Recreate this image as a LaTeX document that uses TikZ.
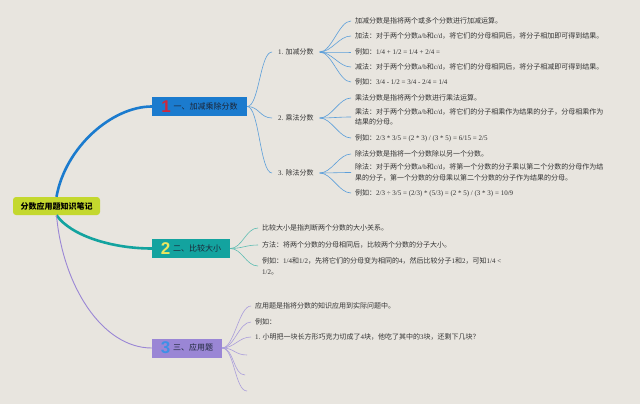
\documentclass[tikz,border=0pt]{standalone}
\usepackage{fontspec}
\setmainfont{Noto Sans CJK SC}
\newfontfamily\engfont{Liberation Serif}
\newfontfamily\numfont{Liberation Sans}
\usetikzlibrary{positioning}

\definecolor{paper}{HTML}{E8E5DF}
\definecolor{rootfill}{HTML}{C4D82E}
\definecolor{blueone}{HTML}{1B7BCE}
\definecolor{tealtwo}{HTML}{13A39F}
\definecolor{purplethree}{HTML}{9A86D5}
\definecolor{lineone}{HTML}{5C9FDA}
\definecolor{linetwo}{HTML}{5DBDB2}
\definecolor{linethree}{HTML}{AA9EDB}
\definecolor{digitone}{HTML}{D0283C}
\definecolor{digittwo}{HTML}{EAE65E}
\definecolor{digitthree}{HTML}{3E90E6}
\definecolor{topictext}{HTML}{1C2638}
\definecolor{leaftext}{HTML}{333333}

\newcommand\engl[1]{{\engfont #1}}
\newcommand\bignum[2]{\raisebox{-3pt}{\numfont\bfseries\fontsize{17}{17}\selectfont\color{#1}#2}\hspace{3pt}}

\begin{document}
\begin{tikzpicture}[x=1pt,y=1pt,
  rootbox/.style={rectangle, rounded corners=3pt, fill=rootfill, minimum width=87pt, minimum height=18pt, inner sep=0pt, font=\fontsize{8}{8}\selectfont\bfseries},
  topic/.style={rectangle, fill=#1, minimum height=19pt, inner sep=0pt, text=topictext, font=\fontsize{8}{8}\selectfont},
  sub/.style={anchor=west, inner xsep=6pt, inner ysep=1pt, text=leaftext, font=\fontsize{7}{10.5}\selectfont},
  leaf/.style={anchor=west, inner xsep=4pt, inner ysep=1pt, align=left, text=leaftext, font=\fontsize{7}{10.5}\selectfont},
  fan/.style={draw=#1, line width=0.6pt, out=0, in=180, out distance=12pt, in distance=12pt}
]
  \fill[paper] (0,0) rectangle (640,-404);
  \useasboundingbox (0,0) rectangle (640,-404);

  % root and main topics
  \node[rootbox] (root) at (56.5,-206) {分数应用题知识笔记};
  \node[topic=blueone, minimum width=95pt] (b1) at (199.5,-106.5) {\bignum{digitone}{1}一、加减乘除分数};
  \node[topic=tealtwo, minimum width=78pt] (b2) at (191,-248.5) {\bignum{digittwo}{2}二、比较大小};
  \node[topic=purplethree, minimum width=70pt] (b3) at (187,-348) {\bignum{digitthree}{3}三、应用题};

  \draw[blueone, line width=2.6pt] (root.north) to[out=80, in=180, out distance=50pt, in distance=40pt] (b1.west);
  \draw[tealtwo, line width=2.6pt] (root.south) to[out=-55, in=180, out distance=25pt, in distance=40pt] (b2.west);
  \draw[purplethree, line width=0.9pt] (root.south) to[out=-85, in=180, out distance=70pt, in distance=50pt] (b3.west);

  % branch 1
  \node[sub] (s1) at (272,-52) {\engl{1.} 加减分数};
  \node[sub] (s2) at (272,-118) {\engl{2.} 乘法分数};
  \node[sub] (s3) at (272,-173) {\engl{3.} 除法分数};
  \foreach \s in {s1,s2,s3}
    \draw[fan=lineone] (b1.east) to (\s.west);

  \node[leaf] (l11) at (351,-21) {加减分数是指将两个或多个分数进行加减运算。};
  \node[leaf] (l12) at (351,-36) {加法：对于两个分数\engl{a/b}和\engl{c/d}，将它们的分母相同后，将分子相加即可得到结果。};
  \node[leaf] (l13) at (351,-52) {例如：\engl{1/4 + 1/2 = 1/4 + 2/4 =}};
  \node[leaf] (l14) at (351,-67) {减法：对于两个分数\engl{a/b}和\engl{c/d}，将它们的分母相同后，将分子相减即可得到结果。};
  \node[leaf] (l15) at (351,-82) {例如：\engl{3/4 - 1/2 = 3/4 - 2/4 = 1/4}};
  \foreach \l in {l11,l12,l13,l14,l15}
    \draw[fan=lineone] (s1.east) to (\l.west);

  \node[leaf] (l21) at (351,-98) {乘法分数是指将两个分数进行乘法运算。};
  \node[leaf] (l22) at (351,-117) {乘法：对于两个分数\engl{a/b}和\engl{c/d}，将它们的分子相乘作为结果的分子，分母相乘作为\\结果的分母。};
  \node[leaf] (l23) at (351,-138) {例如：\engl{2/3 * 3/5 = (2 * 3) / (3 * 5) = 6/15 = 2/5}};
  \foreach \l in {l21,l22,l23}
    \draw[fan=lineone] (s2.east) to (\l.west);

  \node[leaf] (l31) at (351,-154) {除法分数是指将一个分数除以另一个分数。};
  \node[leaf] (l32) at (351,-172.5) {除法：对于两个分数\engl{a/b}和\engl{c/d}，将第一个分数的分子乘以第二个分数的分母作为结\\果的分子，第一个分数的分母乘以第二个分数的分子作为结果的分母。};
  \node[leaf] (l33) at (351,-193) {例如：\engl{2/3 ÷ 3/5 = (2/3) * (5/3) = (2 * 5) / (3 * 3) = 10/9}};
  \foreach \l in {l31,l32,l33}
    \draw[fan=lineone] (s3.east) to (\l.west);

  % branch 2
  \node[leaf] (m1) at (258,-228) {比较大小是指判断两个分数的大小关系。};
  \node[leaf] (m2) at (258,-245) {方法：将两个分数的分母相同后，比较两个分数的分子大小。};
  \node[leaf] (m3) at (258,-266) {例如：\engl{1/4}和\engl{1/2}，先将它们的分母变为相同的\engl{4}，然后比较分子\engl{1}和\engl{2}，可知\engl{1/4 <}\\\engl{1/2}。};
  \foreach \m in {m1,m2,m3}
    \draw[fan=linetwo] (b2.east) to (\m.west);

  % branch 3
  \node[leaf] (n1) at (251,-306) {应用题是指将分数的知识应用到实际问题中。};
  \node[leaf] (n2) at (251,-322) {例如：};
  \node[leaf] (n3) at (251,-337) {\engl{1.} 小明把一块长方形巧克力切成了\engl{4}块，他吃了其中的\engl{3}块，还剩下几块？};
  \coordinate (e1) at (247,-355);
  \coordinate (e2) at (245,-375);
  \coordinate (e3) at (247,-391);
  \foreach \n in {n1.west,n2.west,n3.west,e1,e2,e3}
    \draw[fan=linethree] (b3.east) to (\n);
\end{tikzpicture}
\end{document}
